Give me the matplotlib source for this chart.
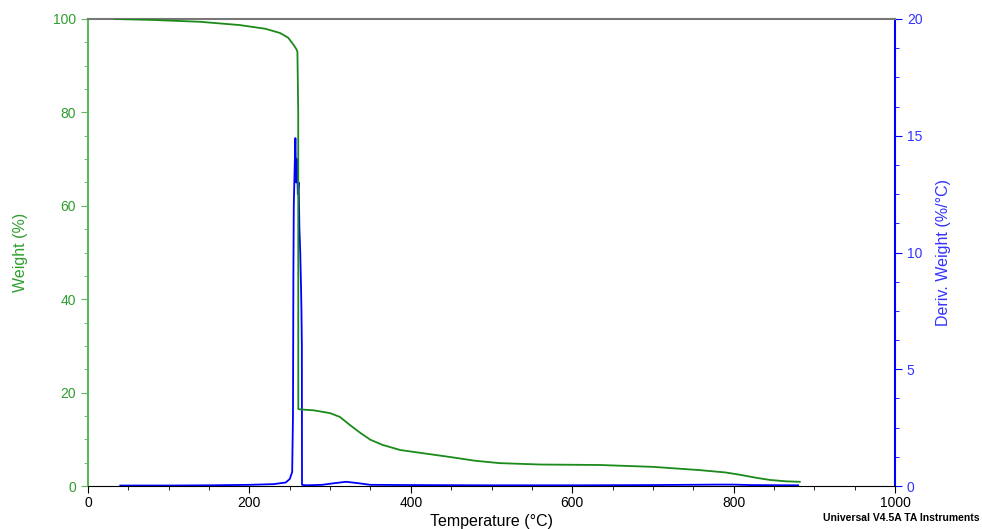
import numpy as np
import matplotlib.pyplot as plt
from matplotlib.ticker import MultipleLocator

plt.rcParams['font.family'] = ['Liberation Sans', 'DejaVu Sans']

# --- Weight curve (%) vs temperature (°C) ---
w_temp = [33, 80, 139, 188, 220, 238, 248, 255, 258, 259.5, 260.5, 260.6,
          263, 280, 300, 312, 325, 338, 350, 365, 387, 420, 449, 480, 510,
          560, 634, 700, 758, 790, 808, 830, 845, 865, 882]
w_val = [100, 99.8, 99.4, 98.7, 97.9, 97.0, 96.0, 94.4, 93.6, 93.0, 80.0, 16.5,
         16.4, 16.2, 15.6, 14.8, 13.0, 11.3, 9.9, 8.8, 7.7, 6.9, 6.2, 5.4, 4.9,
         4.6, 4.5, 4.1, 3.4, 2.9, 2.4, 1.7, 1.3, 1.0, 0.9]

# --- Derivative curve (%/°C) ---
d_temp = [40, 100, 150, 200, 230, 245, 250, 253, 254, 254.5, 255, 256, 257,
          258, 259, 260, 261, 262, 263, 264, 264.5, 265, 265.2, 270, 290, 305,
          320, 335, 350, 400, 500, 600, 700, 780, 800, 820, 880]
d_val = [0.02, 0.02, 0.03, 0.05, 0.08, 0.15, 0.3, 0.6, 3, 9, 12, 13.5, 14.9,
         13, 14, 12.5, 13, 11, 10, 8.5, 7.5, 6, 0.05, 0.03, 0.05, 0.12, 0.18,
         0.12, 0.05, 0.04, 0.03, 0.03, 0.04, 0.06, 0.06, 0.04, 0.03]

green_line = "#1a8a1a"
green_axis = "#5cb85c"
green_text = "#2e9e2e"
blue = "#0000ff"
blue_text = "#3333ff"

fig = plt.figure(figsize=(9.82, 5.29), dpi=100)
ax = fig.add_axes([88/982, 1 - 486/529, (895-88)/982, (486-19)/529])
ax2 = ax.twinx()

ax.plot(w_temp, w_val, color=green_line, lw=1.3, zorder=3)
ax2.plot(d_temp, d_val, color=blue, lw=1.3)
ax.set_zorder(ax2.get_zorder() + 1)
ax.patch.set_visible(False)

ax.set_xlim(0, 1000)
ax.set_ylim(0, 100)
ax2.set_ylim(0, 20)

ax.xaxis.set_major_locator(MultipleLocator(200))
ax.xaxis.set_minor_locator(MultipleLocator(50))
ax.yaxis.set_major_locator(MultipleLocator(20))
ax.yaxis.set_minor_locator(MultipleLocator(5))
ax2.yaxis.set_major_locator(MultipleLocator(5))
ax2.yaxis.set_minor_locator(MultipleLocator(1.25))

for a in (ax, ax2):
    for s in a.spines.values():
        s.set_visible(False)
ax.spines['bottom'].set_visible(True)
ax.spines['bottom'].set_color('black')
ax.spines['top'].set_visible(True)
ax.spines['top'].set_color('#777777')
ax.spines['top'].set_linewidth(1.5)
ax.spines['left'].set_visible(True)
ax.spines['left'].set_color(green_axis)
ax.spines['left'].set_linewidth(1.5)
ax2.spines['right'].set_visible(True)
ax2.spines['right'].set_color(blue)
ax2.spines['right'].set_linewidth(1.5)

ax.tick_params(axis='x', which='both', direction='out', colors='black',
               labelsize=10, top=False, pad=2)
ax.tick_params(axis='x', which='major', length=5)
ax.tick_params(axis='x', which='minor', length=3)
ax.tick_params(axis='y', which='both', direction='out', colors=green_axis,
               labelcolor=green_text, labelsize=10)
ax.tick_params(axis='y', which='major', length=5)
ax.tick_params(axis='y', which='minor', length=3)
ax2.tick_params(axis='y', which='both', direction='out', colors=blue,
                labelcolor=blue_text, labelsize=10)
ax2.tick_params(axis='y', which='major', length=5)
ax2.tick_params(axis='y', which='minor', length=3)

ax.set_xlabel("Temperature (°C)", fontsize=11.5, labelpad=3)
ax.set_ylabel("Weight (%)", fontsize=11.5, color=green_text, labelpad=18)
ax2.set_ylabel("Deriv. Weight (%/°C)", fontsize=11.5, color=blue_text,
               labelpad=10)

fig.text(0.997, 0.012, "Universal V4.5A TA Instruments", ha='right',
         va='bottom', fontsize=7.5, fontweight='bold')

fig.savefig("out.png", dpi=100)
